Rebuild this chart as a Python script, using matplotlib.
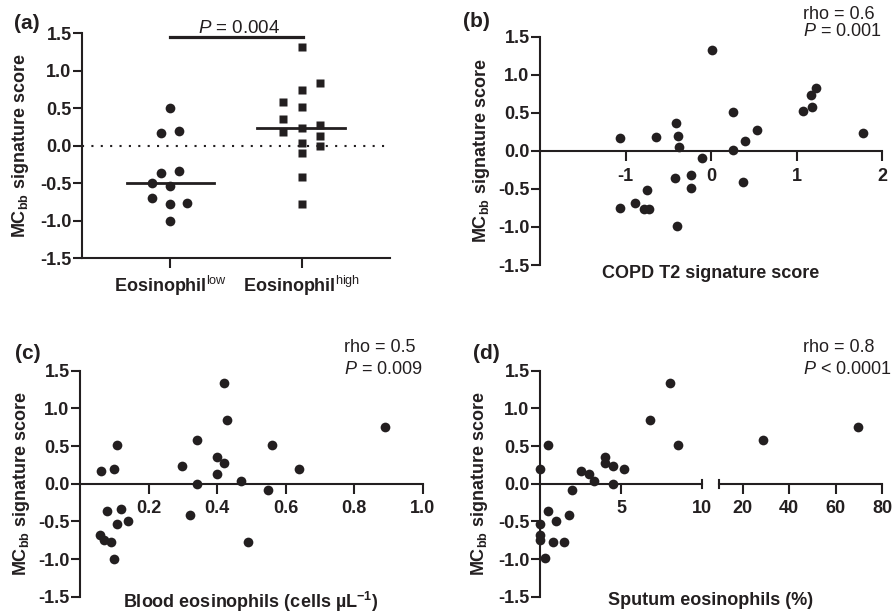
import matplotlib
matplotlib.use('Agg')
import matplotlib.pyplot as plt
from matplotlib.ticker import FormatStrFormatter

plt.rcParams['font.family'] = 'Liberation Sans'
plt.rcParams['font.weight'] = 'bold'
plt.rcParams['mathtext.fontset'] = 'custom'
plt.rcParams['mathtext.rm'] = 'Liberation Sans:weight=normal'
plt.rcParams['mathtext.it'] = 'Liberation Sans:style=italic:weight=normal'
plt.rcParams['mathtext.bf'] = 'Liberation Sans:weight=bold'
plt.rcParams['axes.unicode_minus'] = False

ink = '#231f20'

# (a) MCbb score by eosinophil group (x offset = scatter spread within group)
low_scores = [0.51, 0.17, 0.20, -0.36, -0.33, -0.50, -0.53, -0.69, -0.78, -0.76, -1.00]
low_spread = [0, -0.07, 0.07, -0.07, 0.07, -0.14, 0, -0.14, 0, 0.13, 0]
high_scores = [0.58, 0.36, 0.19, 1.32, 0.75, 0.52, 0.24, 0.04, -0.09, -0.42, -0.77,
               0.84, 0.28, 0.13, 0.00]
high_spread = [-0.14, -0.14, -0.14, 0, 0, 0, 0, 0, 0, 0, 0, 0.14, 0.14, 0.14, 0.14]
low_median = -0.49
high_median = 0.24
group_labels = ['Eosinophil$^{\\mathrm{low}}$', 'Eosinophil$^{\\mathrm{high}}$']

# (b) vs COPD T2 signature score
t2_x = [-1.06, -1.06, -0.89, -0.79, -0.73, -0.75, -0.65, -0.41, -0.39, -0.37, -0.42,
        -0.40, -0.24, -0.24, -0.11, 0.01, 0.25, 0.26, 0.37, 0.40, 0.53, 1.07, 1.18,
        1.17, 1.22, 1.78]
t2_y = [0.17, -0.75, -0.68, -0.77, -0.77, -0.52, 0.18, 0.36, 0.20, 0.05, -0.36,
        -0.99, -0.32, -0.49, -0.09, 1.32, 0.01, 0.51, -0.41, 0.13, 0.28, 0.52, 0.58,
        0.74, 0.83, 0.24]

# (c) vs blood eosinophils
blood_x = [0.061, 0.100, 0.109, 0.078, 0.120, 0.109, 0.141, 0.058, 0.071, 0.090, 0.100,
           0.299, 0.340, 0.340, 0.320, 0.400, 0.400, 0.420, 0.420, 0.430, 0.471, 0.489,
           0.550, 0.560, 0.640, 0.889]
blood_y = [0.17, 0.20, 0.51, -0.36, -0.33, -0.53, -0.49, -0.68, -0.75, -0.78, -1.00,
           0.24, 0.58, 0.00, -0.42, 0.36, 0.13, 1.34, 0.27, 0.84, 0.04, -0.77,
           -0.09, 0.52, 0.19, 0.75]

# (d) vs sputum eosinophils
sputum_x = [0.0, 0.5, 0.0, 0.0, 0.0, 0.3, 0.5, 1.0, 0.8, 1.5, 1.8, 2.0, 2.5, 3.0,
            3.3, 4.0, 4.0, 4.5, 4.5, 5.2, 6.8, 8.0, 8.5, 28.6, 69.6]
sputum_y = [0.20, 0.51, -0.53, -0.68, -0.75, -0.99, -0.36, -0.49, -0.78, -0.78, -0.42,
            -0.09, 0.17, 0.13, 0.04, 0.36, 0.27, 0.23, 0.00, 0.19, 0.84, 1.34, 0.52,
            0.58, 0.75]

y_ticks = [-1.5, -1.0, -0.5, 0.0, 0.5, 1.0, 1.5]

W, H = 894, 615
fig = plt.figure(figsize=(W / 100, H / 100), dpi=100)


def px_axes(left, top, right, bottom):
    return fig.add_axes([left / W, 1 - bottom / H, (right - left) / W, (bottom - top) / H])


def px_text(x, y, s, **kw):
    return fig.text(x / W, 1 - y / H, s, **kw)


def style(ax, xzero=True, yaxis=True):
    ax.set_ylim(-1.5, 1.5)
    ax.spines[['top', 'right']].set_visible(False)
    for sp in ax.spines.values():
        sp.set_linewidth(1.5)
        sp.set_color(ink)
    if xzero:
        ax.spines['bottom'].set_position(('data', 0))
    ax.tick_params(length=6.5, width=1.5, color=ink, labelcolor=ink, labelsize=13)
    ax.tick_params(axis='x', length=7, pad=5)
    ax.tick_params(axis='y', pad=1)
    if yaxis:
        ax.set_yticks(y_ticks)
        ax.yaxis.set_major_formatter(FormatStrFormatter('%.1f'))
    else:
        ax.spines['left'].set_visible(False)
        ax.set_yticks([])
    ax.patch.set_visible(False)


def dots(ax, x, y, **kw):
    ax.plot(x, y, 'o', ms=7, color=ink, mec='none', clip_on=False, zorder=5, **kw)


ylab = 'MC$_{\\mathbf{bb}}$ signature score'

# ---- (a)
ax = px_axes(82, 33.3, 390, 258.3)
style(ax, xzero=False)
ax.set_xlim(-0.67, 1.67)
ax.plot([0 + d for d in low_spread], low_scores, 'o', ms=7, color=ink, mec='none', zorder=5)
ax.plot([1 + d for d in high_spread], high_scores, 's', ms=6.4, color=ink, mec='none', zorder=5)
ax.plot([-0.33, 0.33], [low_median] * 2, color=ink, lw=2, zorder=6)
ax.plot([0.66, 1.33], [high_median] * 2, color=ink, lw=2, zorder=6)
ax.axhline(0, color=ink, lw=1.5, ls=(0, (1, 3.5)), zorder=1)
ax.plot([0, 1.01], [1.45, 1.45], color=ink, lw=2.3, clip_on=False)
ax.text(0.52, 1.5, '$P$ = 0.004', ha='center', va='baseline', fontsize=13.5,
        fontweight='normal', color=ink)
ax.set_xticks([0, 1])
ax.set_xticklabels(group_labels)
ax.tick_params(axis='x', length=7.5, pad=4)

# ---- (b)
ax = px_axes(540, 36.7, 882.3, 265)
style(ax)
ax.set_xlim(-2, 2)
ax.set_xticks([-1, 0, 1, 2])
ax.set_xticklabels(['-1', '0', '1', '2'])
dots(ax, t2_x, t2_y)

# ---- (c)
ax = px_axes(80, 370.7, 422.7, 596.7)
style(ax)
ax.set_xlim(0, 1.0)
ax.set_xticks([0.2, 0.4, 0.6, 0.8, 1.0])
ax.xaxis.set_major_formatter(FormatStrFormatter('%.1f'))
dots(ax, blood_x, blood_y)

# ---- (d) broken x axis
left_x = [v for v in sputum_x if v <= 10]
left_y = [b for v, b in zip(sputum_x, sputum_y) if v <= 10]
right_x = [v for v in sputum_x if v > 10]
right_y = [b for v, b in zip(sputum_x, sputum_y) if v > 10]

ax = px_axes(540, 370.7, 702.3, 596.7)
style(ax)
ax.set_xlim(0, 10)
ax.set_xticks([5, 10])
ax.xaxis.get_major_ticks()[1].tick1line.set_visible(False)
ax.plot([10, 10], [-0.055, 0.055], color=ink, lw=1.5, clip_on=False)
dots(ax, left_x, left_y)

ax2 = px_axes(719.3, 370.7, 882, 596.7)
style(ax2, yaxis=False)
ax2.set_xlim(10, 80)
ax2.set_xticks([20, 40, 60, 80])
ax2.plot([10, 10], [-0.055, 0.055], color=ink, lw=1.5, clip_on=False)
dots(ax2, right_x, right_y)

# ---- labels
for x, y in [(21, 145.8), (481, 151), (22, 483.7), (480, 483.7)]:
    px_text(x, y, ylab, rotation=90, ha='center', va='center', fontsize=13, color=ink)

px_text(711, 278, 'COPD T2 signature score', ha='center', va='baseline', fontsize=13, color=ink)
px_text(251, 608, 'Blood eosinophils (cells \u00b5L$^{\\mathbf{-1}}$)', ha='center',
        va='baseline', fontsize=13, color=ink)
px_text(711, 605, 'Sputum eosinophils (%)', ha='center', va='baseline', fontsize=13, color=ink)

for x, y, s in [(14, 29, '(a)'), (463, 27, '(b)'), (15, 359, '(c)'), (473, 359, '(d)')]:
    px_text(x, y, s, ha='left', va='baseline', fontsize=15, color=ink)

for x, y, rho, p in [(803, 19, '0.6', '= 0.001'), (343.5, 352.5, '0.5', '= 0.009'),
                     (803, 352.5, '0.8', '< 0.0001')]:
    px_text(x, y, 'rho = ' + rho, ha='left', va='baseline', fontsize=13,
            fontweight='normal', color=ink)
    px_text(x, y + 21.5 if y > 100 else y + 17, '$P$ ' + p, ha='left', va='baseline',
            fontsize=13, fontweight='normal', color=ink)

fig.savefig('out.png', dpi=100)
